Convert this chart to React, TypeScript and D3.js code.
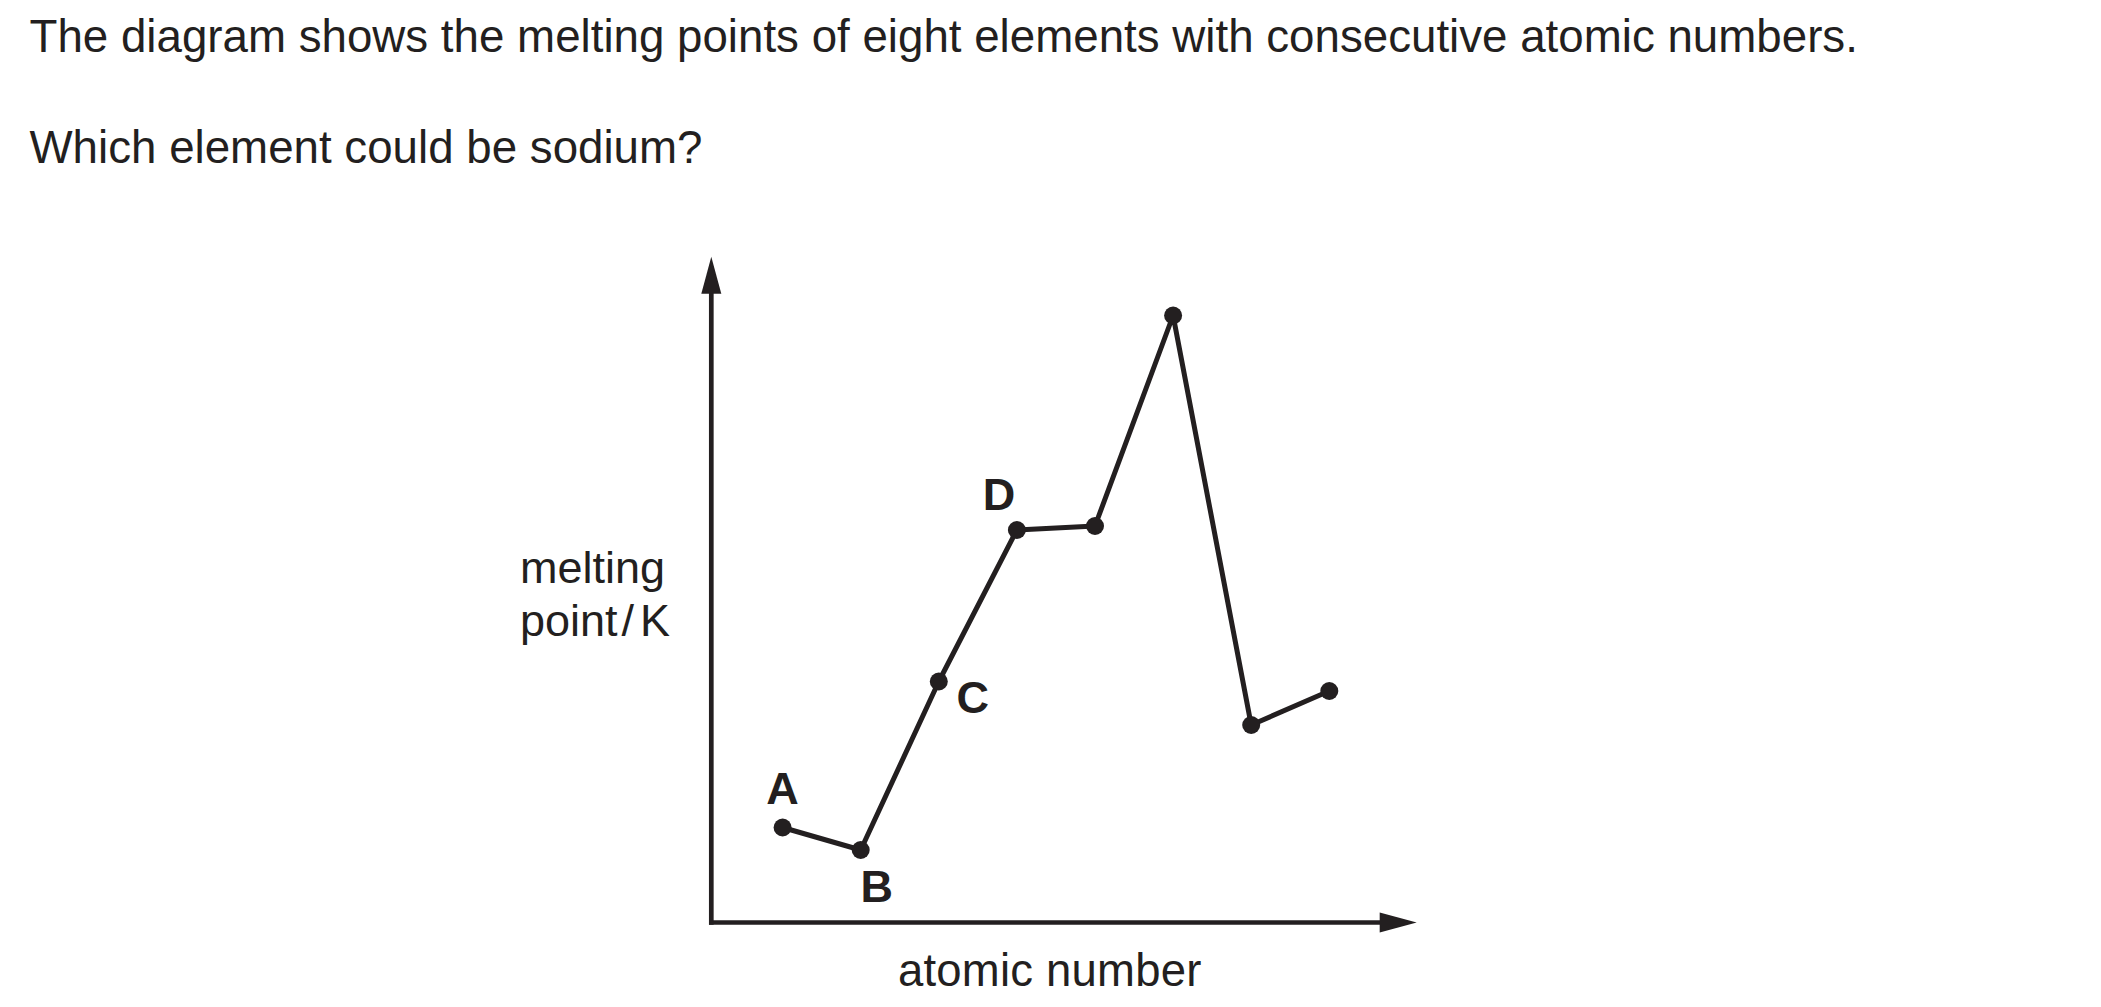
import React from "react";
import * as d3 from "d3";

// ---- data ----
const atomicIndex = [1, 2, 3, 4, 5, 6, 7, 8];
const meltingPoint = [95, 72.5, 241, 392.5, 396.5, 607, 197.5, 231.5];
const pointLabels = ["A", "B", "C", "D", "", "", "", ""];
const titleLines = [
  "The diagram shows the melting points of eight elements with consecutive atomic numbers.",
  "Which element could be sodium?",
];
const yLabelLines = ["melting", "point", "/", "K"];
const xLabel = "atomic number";

const W = 2101;
const H = 1007;
const INK = "#231f20";
const FONT = "'Liberation Sans', Arial, Helvetica, sans-serif";

export default function App() {
  const x = d3.scaleLinear().domain([1, 8]).range([782.6, 1329.3]);
  const y = d3.scaleLinear().domain([0, 700]).range([922.5, 222.5]);

  const originX = 711.3;
  const originY = 922.5;
  const yTip = 256.7;
  const xTip = 1416.7;
  const headLen = 37;
  const headHalf = 10;

  const pts = atomicIndex.map((a, i) => [x(a), y(meltingPoint[i])] as [number, number]);
  const line = d3.line<[number, number]>().x((d) => d[0]).y((d) => d[1]);

  const labelOffsets: Record<string, [number, number]> = {
    A: [0, -24],
    B: [16, 52],
    C: [34, 31],
    D: [-18, -20.5],
  };

  return (
    <svg
      width={W}
      height={H}
      viewBox={`0 0 ${W} ${H}`}
      style={{ position: "absolute", left: 0, top: 0, background: "#fff", display: "block" }}
      fontFamily={FONT}
    >
      <rect x={0} y={0} width={W} height={H} fill="#fff" />
      {/* question text */}
      <text x={29.5} y={52} fontSize={45.7} fill={INK}>{titleLines[0]}</text>
      <text x={29.5} y={163} fontSize={45.7} fill={INK}>{titleLines[1]}</text>

      {/* axes */}
      <line x1={originX} y1={originY + 2.3} x2={originX} y2={yTip + headLen - 1} stroke={INK} strokeWidth={4.7} />
      <line x1={originX - 2.3} y1={originY} x2={xTip - headLen + 1} y2={originY} stroke={INK} strokeWidth={4.7} />
      <path
        d={`M${originX},${yTip} L${originX + headHalf},${yTip + headLen} L${originX - headHalf},${yTip + headLen} Z`}
        fill={INK}
      />
      <path
        d={`M${xTip},${originY} L${xTip - headLen},${originY - headHalf} L${xTip - headLen},${originY + headHalf} Z`}
        fill={INK}
      />

      {/* axis labels */}
      <text x={520} y={583} fontSize={45} fill={INK}>{yLabelLines[0]}</text>
      <text x={520} y={636} fontSize={45} fill={INK}>
        {yLabelLines[1]}
        <tspan dx={4}>{yLabelLines[2]}</tspan>
        <tspan dx={6}>{yLabelLines[3]}</tspan>
      </text>
      <text x={898} y={986} fontSize={45.5} letterSpacing={0.2} fill={INK}>{xLabel}</text>

      {/* data line */}
      <path d={line(pts) || ""} fill="none" stroke={INK} strokeWidth={5} strokeLinejoin="round" />
      {pts.map((p, i) => (
        <circle key={i} cx={p[0]} cy={p[1]} r={9} fill={INK} />
      ))}
      {pts.map((p, i) => {
        const lab = pointLabels[i];
        if (!lab) return null;
        const off = labelOffsets[lab] || [0, 0];
        return (
          <text
            key={"l" + i}
            x={p[0] + off[0]}
            y={p[1] + off[1]}
            fontSize={45}
            fontWeight="bold"
            fill={INK}
            textAnchor="middle"
          >
            {lab}
          </text>
        );
      })}
    </svg>
  );
}
